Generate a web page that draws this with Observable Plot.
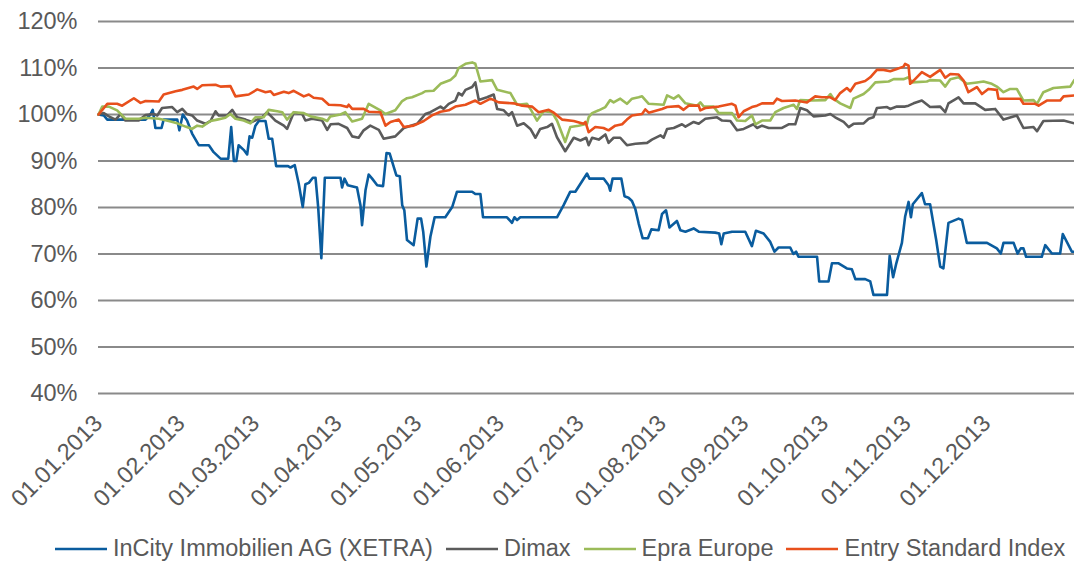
<!DOCTYPE html>
<html>
<head>
<meta charset="utf-8">
<script src="https://cdn.jsdelivr.net/npm/d3@7"></script>
<script src="https://cdn.jsdelivr.net/npm/@observablehq/plot@0.6"></script>
<style>
  html, body { margin: 0; padding: 0; background: #fff; }
  body { width: 1074px; height: 563px; overflow: hidden; font-family: "Liberation Sans", Arial, sans-serif; }
  #legend { display: flex; align-items: center; height: 33px; padding-left: 55px; color: #595959; font-size: 23.5px; white-space: nowrap; }
  #legend .item { display: flex; align-items: center; margin-right: 13px; }
  #legend svg { margin-right: 6px; }
</style>
</head>
<body>
<div id="chart"></div>
<div id="legend"></div>
<script>
// Series names and colours
const seriesNames = ["InCity Immobilien AG (XETRA)", "Dimax", "Epra Europe", "Entry Standard Index"];
const seriesColors = ["#0a5c9e", "#5b5b5b", "#9bbb59", "#e8501c"];

// Y axis tick values (share of start value)
const yTickValues = [0.4, 0.5, 0.6, 0.7, 0.8, 0.9, 1.0, 1.1, 1.2];
// X axis tick labels (month starts)
const monthTickLabels = ["01.01.2013","01.02.2013","01.03.2013","01.04.2013","01.05.2013","01.06.2013","01.07.2013","01.08.2013","01.09.2013","01.10.2013","01.11.2013","01.12.2013"];

// Each series: [days since 01.01.2013, value in %]
const incity = [[0,100],[2.0,99.8],[3.3,98.9],[17.7,98.9],[19.5,100],[20.4,101],[21.4,97.1],[23.7,97.1],[24.5,98.9],[29.6,98.9],[30.4,96.6],[31.7,100],[33.3,98.7],[35.2,95.9],[37.7,93.4],[41.5,93.4],[43.3,91.9],[45.9,90.5],[48.8,90.5],[49.9,97.3],[50.9,90],[51.8,90],[52.7,93.4],[54.6,92.4],[55.9,91.4],[56.8,95.3],[57.8,95],[59.0,97.6],[60.3,98.6],[62.8,98.6],[64.0,94.8],[65.3,94.8],[66.8,88.9],[71.3,88.9],[72.2,88.6],[73.8,89.1],[75.3,85.1],[76.8,80.1],[77.8,85],[79.1,85.3],[80.6,86.4],[81.6,86.4],[82.6,80.1],[83.8,69.1],[85.1,86.4],[91.0,86.4],[91.6,84.3],[92.5,86.2],[93.7,84.8],[97.2,84.3],[98.5,80.5],[99.1,76.2],[100.4,83.7],[101.6,87.1],[102.9,86.2],[104.8,84.8],[107.0,84.6],[108.3,91.7],[109.5,91.6],[112.0,86.9],[113.3,86.7],[114.2,80.5],[115.0,79.4],[116.0,73],[118.5,71.9],[120.0,77.6],[121.3,77.6],[122.1,74.8],[123.3,67.3],[124.8,73.7],[126.4,77.9],[130.4,77.9],[133.0,80.1],[134.8,83.4],[140.5,83.4],[141.7,82.9],[143.6,82.9],[144.6,77.9],[153.6,77.9],[155.5,76.7],[156.4,77.9],[157.4,77.3],[158.6,77.9],[172.4,77.9],[174.9,80.5],[177.4,83.4],[179.3,83.4],[183.7,87.3],[184.6,86.2],[190.0,86.2],[191.8,84.8],[192.4,83.6],[193.3,86.2],[196.6,86.2],[197.8,82.4],[199.3,82.1],[200.6,81.4],[201.9,79.6],[203.1,76.6],[204.6,73.4],[206.6,73.4],[207.9,75.3],[210.6,75.1],[211.9,78.6],[213.4,79.4],[214.7,75.7],[217.5,77.1],[218.8,75.1],[220.7,74.8],[223.8,75.5],[225.7,74.8],[231.9,74.6],[233.4,74.4],[234.2,72.1],[235.1,74.4],[238.2,74.8],[243.2,74.8],[245.7,71.7],[247.2,75],[250.1,74.4],[252.6,72.6],[254.2,70.5],[255.7,71.4],[260.1,71.4],[261.3,70],[262.3,70.5],[263.2,69.4],[270.2,69.4],[271.0,64.1],[274.5,64.1],[275.8,68],[278.3,68],[281.4,66.9],[283.3,66.7],[284.6,64.6],[288.3,64.6],[290.2,64.1],[291.4,61.2],[296.5,61.2],[297.5,69.6],[298.8,65],[300.0,68],[302.1,72.4],[303.3,78],[304.6,81.2],[305.5,77.9],[306.2,80.7],[309.6,83.1],[310.8,80.7],[312.7,80.7],[315.0,73],[316.5,67.3],[317.7,66.9],[319.6,76.7],[323.4,77.6],[324.7,77.3],[326.5,72.4],[334.1,72.4],[337.8,71.2],[339.3,70.1],[340.3,72.4],[344.1,72.4],[345.6,70.1],[346.8,71.2],[347.8,71.2],[348.8,69.4],[354.7,69.4],[356.0,71.9],[358.5,70.1],[361.6,70.1],[362.6,74.3],[366.0,70.5],[366.9,70.5]];

const dimax = [[0,100],[2.0,100.3],[3.9,99.6],[6.4,98.9],[8.3,100.1],[10.1,98.7],[15.1,98.7],[17.7,99.9],[20.8,100.1],[22.1,99.8],[23.9,101.4],[27.7,101.6],[29.6,100.5],[31.5,101.2],[33.3,100.1],[35.2,99.8],[37.1,98.7],[40.2,98],[42.1,98.6],[44.0,100.7],[45.2,99.8],[48.4,99.8],[50.3,101],[52.1,99.4],[55.3,98.9],[57.8,98.4],[61.5,99.4],[63.4,100.5],[66.5,98.7],[69.7,97.6],[70.9,96.9],[73.4,100.4],[76.6,100.1],[77.8,98.7],[80.3,99.1],[84.1,98.7],[86.0,96.7],[87.3,97.9],[90.3,98],[93.5,97.1],[95.4,95.3],[97.8,95],[99.7,96.6],[102.2,97.6],[105.4,96.7],[107.2,94.8],[111.6,95.3],[114.8,97.1],[119.8,98],[122.9,100.1],[124.8,100.5],[128.6,101.7],[129.8,101.2],[131.7,102.3],[134.2,103],[135.4,104.6],[136.7,104.1],[138.0,105.3],[140.5,105.9],[141.7,106.9],[143.0,103.1],[146.1,103.7],[148.6,104.3],[149.9,101.2],[152.4,100.9],[154.2,99.8],[155.5,100.5],[157.4,97.6],[159.9,98.1],[162.4,96.9],[164.3,95],[166.1,96.9],[168.7,97.3],[170.5,98],[172.4,95.1],[175.5,92.1],[178.7,95],[181.2,94.4],[183.4,95],[184.3,93.4],[185.6,95],[188.1,94.6],[190.6,95.7],[191.8,93.9],[193.7,95],[196.2,95],[198.7,93.4],[201.9,93.7],[206.3,93.9],[208.1,94.6],[211.3,95.5],[212.5,95],[213.8,96.9],[216.3,97.1],[219.4,97.9],[220.7,97.4],[223.8,98.4],[225.7,98],[228.2,99.1],[232.6,99.4],[234.5,98.7],[237.6,98.6],[240.1,96.6],[242.6,96.9],[246.3,97.9],[247.6,97.1],[249.5,97.6],[252.0,97.1],[257.0,97.1],[259.5,97.9],[262.0,97.9],[263.9,101.4],[266.4,100.9],[268.9,99.6],[273.3,99.8],[275.2,100.1],[277.0,99.4],[280.2,98.4],[282.1,97.3],[283.9,98],[287.7,98.1],[289.6,99.1],[291.4,99.4],[292.7,101.4],[296.5,101.6],[297.7,101.2],[300.2,101.7],[303.3,101.7],[304.6,101.9],[306.5,102.4],[309.6,103],[312.7,101.6],[316.5,101.7],[318.4,100.5],[319.6,102.4],[323.4,103.7],[325.3,102.4],[329.7,102.4],[333.4,101],[337.2,101.2],[340.3,98.9],[345.3,99.8],[347.8,97.1],[351.6,97.3],[352.9,96.4],[355.3,98.6],[362.9,98.7],[366.9,98.1]];

const epra = [[0,100],[1.4,101.7],[3.9,101.7],[7.0,100.9],[10.1,99.1],[15.1,99.1],[17.7,99.3],[22.7,99.1],[26.4,98.6],[29.6,98.1],[32.7,97.4],[35.2,96.9],[37.1,97.6],[39.0,97.4],[42.1,98.6],[44.6,98.9],[47.7,99.3],[49.6,100.1],[51.5,99.1],[54.6,98.7],[57.1,98.1],[59.0,99.4],[62.1,99.4],[64.0,101],[67.2,100.7],[69.1,100.5],[70.9,98.9],[73.4,100.5],[77.2,100.3],[79.7,99.6],[84.1,99.1],[86.0,98.6],[87.2,99.6],[91.0,100],[92.8,100.5],[95.4,98.5],[99.1,99.1],[101.6,102.3],[106.0,100.9],[107.9,100.1],[111.6,100.9],[114.2,102.9],[116.0,103.5],[117.9,103.7],[121.7,104.6],[122.9,105],[126.0,105.1],[128.6,106.6],[132.3,107.4],[134.2,108.4],[135.4,110],[138.0,110.9],[140.5,111.2],[141.7,110.9],[143.6,107.1],[148.0,107.4],[149.9,105.3],[154.9,104.6],[157.4,102.1],[161.1,102.3],[162.4,101.2],[164.9,98.7],[167.4,100.7],[170.5,100.5],[172.4,98.7],[175.5,94.1],[177.4,97.3],[180.5,97.6],[183.7,98],[184.3,99.4],[185.6,100.3],[188.1,100.9],[190.6,101.6],[192.4,103.1],[193.7,102.6],[196.2,103.4],[198.7,102.3],[200.6,103.4],[203.1,103.7],[204.4,103.9],[206.9,102.3],[212.5,102.1],[213.8,104.1],[216.3,103.4],[218.1,104.1],[220.7,102.4],[225.1,101.9],[226.3,102.6],[227.6,101.7],[231.3,101.7],[233.2,100.3],[238.2,100.3],[240.1,98.7],[243.2,98.6],[245.7,99.8],[247.0,97.9],[249.5,98.7],[252.6,98.7],[254.5,100.5],[257.6,101.4],[261.4,102.1],[262.6,101.2],[263.9,103.1],[268.3,103],[273.3,103.1],[275.2,104.4],[276.4,103.4],[278.9,102.4],[282.7,101.4],[283.9,103.4],[287.7,104.4],[289.6,105.3],[292.1,106.9],[297.1,107.1],[299.0,107.6],[302.7,107.6],[304.6,108],[305.9,106.9],[311.5,107.1],[312.7,107.4],[316.5,107.3],[318.4,106],[320.3,107.6],[323.4,108],[326.5,106.6],[330.3,106.9],[332.8,107.1],[335.9,106.6],[337.8,106],[340.3,104.8],[342.8,105.5],[345.3,105.5],[347.8,103],[351.6,103.1],[352.9,102.3],[355.3,104.8],[359.1,105.7],[365.4,106],[366.9,107.4]];

const entry = [[0,100],[3.3,102.3],[7.0,102.3],[8.9,101.9],[13.3,103.5],[15.8,102.5],[17.7,102.9],[22.7,102.8],[24.5,104.3],[29.0,105],[31.5,105.3],[35.8,106],[37.1,105.5],[39.0,106.3],[44.0,106.4],[45.9,106],[49.6,106.1],[51.5,103.9],[56.5,104.3],[59.7,105.4],[62.8,104.8],[64.7,105],[65.9,104.2],[69.7,104.9],[71.5,104.6],[73.4,105.1],[77.2,103.9],[79.1,104.3],[80.9,103.6],[84.1,103.4],[86.6,102.1],[91.0,102],[93.5,101.6],[94.1,102.1],[95.4,101.2],[99.7,101.2],[101.6,100.6],[106.0,100.5],[107.9,97.6],[109.8,98.4],[112.9,98.9],[114.8,97.3],[118.5,97.6],[122.3,98.6],[125.4,99.8],[128.6,100.6],[131.7,100.9],[134.2,101.7],[138.0,102.1],[141.7,103],[143.6,102.3],[147.4,103.4],[150.5,102.6],[156.1,102.4],[159.3,101.9],[163.0,101.7],[165.5,100.5],[169.3,101],[171.2,100.4],[174.3,98.9],[178.7,98.6],[182.4,98],[183.1,98.4],[184.3,96.2],[186.8,97.3],[189.9,97.1],[191.8,96.6],[194.3,97.6],[196.9,97.9],[198.7,98.9],[200.6,99.8],[204.4,100.1],[205.6,101.1],[206.9,100.4],[211.9,101.2],[213.8,101.6],[218.1,101.8],[220.0,101],[221.9,101.9],[225.7,101.9],[226.3,100.9],[228.2,101.4],[233.2,101.7],[238.2,102.3],[239.5,101.9],[240.7,99.4],[242.6,100.7],[245.7,101.6],[247.6,101.9],[249.5,102.4],[253.8,102.4],[255.1,103.4],[257.0,102.9],[262.0,103],[266.4,102.6],[269.5,103.9],[272.0,103.7],[275.2,103.7],[277.0,103.1],[278.9,104.6],[281.4,105.7],[282.7,105],[284.6,106.6],[288.3,107.2],[290.2,108],[292.7,109.6],[295.2,109.6],[297.7,109.3],[300.2,109.8],[302.7,110.3],[303.3,110.9],[304.6,110.5],[305.2,106.6],[306.5,107.3],[309.6,109.1],[312.7,108.1],[316.5,109.6],[318.4,107.9],[320.3,108.7],[323.4,108.6],[325.3,107.3],[327.1,104.8],[330.3,105.9],[332.2,104.4],[334.6,105.5],[337.8,105.3],[338.4,103.4],[346.6,103.4],[347.8,102.3],[352.2,102.3],[353.5,101.9],[356.6,103],[361.6,103],[362.9,103.9],[366.9,104.1]];

const seriesData = [incity, dimax, epra, entry];

const t0 = Date.UTC(2013, 0, 1);
const toDate = d => new Date(t0 + d * 864e5);
const parseLabel = d3.utcParse("%d.%m.%Y");

const rows = [];
seriesData.forEach((arr, i) => {
  arr.forEach(([d, v]) => rows.push({series: seriesNames[i], date: toDate(d), value: v / 100}));
});

const monthTicks = monthTickLabels.map(parseLabel);

const chart = Plot.plot({
  width: 1074,
  height: 532,
  marginLeft: 98,
  marginRight: 0,
  marginTop: 21,
  marginBottom: 139,
  style: {fontFamily: "'Liberation Sans', Arial, sans-serif", fontSize: "23.5px", color: "#595959", background: "#fff", overflow: "visible"},
  x: {type: "utc", domain: [toDate(0), toDate(367)]},
  y: {domain: [0.4, 1.2]},
  color: {domain: seriesNames, range: seriesColors},
  marks: [
    Plot.gridY(yTickValues, {stroke: "#8a8a8a", strokeOpacity: 1, strokeWidth: 2}),
    Plot.axisY(yTickValues, {tickSize: 0, tickPadding: 21, tickFormat: d3.format(".0%"), fill: "#595959", label: null}),
    Plot.axisX(monthTicks, {tickSize: 0, tickPadding: 26, tickRotate: -45, tickFormat: d3.utcFormat("%d.%m.%Y"), fill: "#595959", label: null}),
    Plot.line(rows, {x: "date", y: "value", z: "series", stroke: "series", strokeWidth: 2.6, strokeLinejoin: "round"})
  ]
});
document.getElementById("chart").appendChild(chart);

// Legend
const legend = document.getElementById("legend");
seriesNames.forEach((name, i) => {
  const item = document.createElement("div");
  item.className = "item";
  item.innerHTML = `<svg width="52" height="6"><line x1="0" y1="3" x2="52" y2="3" stroke="${seriesColors[i]}" stroke-width="2.6"/></svg><span>${name}</span>`;
  legend.appendChild(item);
});
</script>
</body>
</html>
